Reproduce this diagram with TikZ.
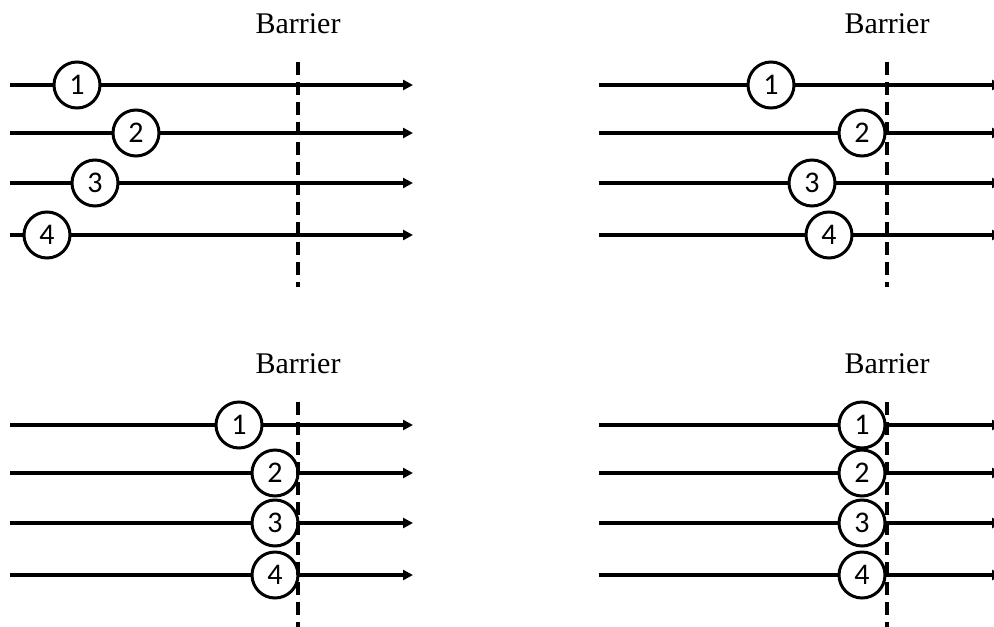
\documentclass[tikz,border=0pt]{standalone}
\usepackage{fontspec}
\setmainfont{Liberation Serif}
\newfontfamily\digitfont{Carlito}
\usetikzlibrary{arrows.meta,positioning}
\tikzset{
    thread/.style={
        circle,
        draw=black,
        line width=1.5pt,
        fill=white,
        inner sep=0pt,
        minimum size=23pt,
        font=\digitfont\fontsize{15}{17}\selectfont,
    },
    lane/.style={
        draw,
        line width=1.8pt,
        -{Triangle[length=5pt,width=5pt]},
    },
    barrier/.style={
        draw,
        line width=1.8pt,
        dash pattern=on 6.5pt off 3.5pt,
    },
    caption/.style={
        font=\fontsize{15}{17}\selectfont,
    },
}

\begin{document}
\begin{tikzpicture}[x=0.5pt,y=-0.5pt]
    \useasboundingbox (0,0) rectangle (994,626);

    % four panels: name / x offset / y offset
    \foreach \p/\x/\y in {a/0/0, b/589/0, c/0/340, d/589/340} {
        \foreach \i/\h in {1/85, 2/133, 3/183, 4/235} {
            \coordinate (s-\p\i) at (\x+10,\y+\h);
            \coordinate (e-\p\i) at (\x+413,\y+\h);
            \draw[lane] (s-\p\i) -- (e-\p\i);
        }
        \coordinate (top-\p) at (\x+298,\y+62);
        \coordinate (bot-\p) at (\x+298,\y+287);
        \node[caption] (lbl-\p) at (\x+298,\y+24) {Barrier};
    }

    % top left
    \node[thread] (a1) at (77,85) {1};
    \node[thread] (a2) at (136,133) {2};
    \node[thread] (a3) at (95,183) {3};
    \node[thread] (a4) at (47,235) {4};

    % top right
    \node[thread] (b1) at (771,85) {1};
    \node[thread] (b2) at (862,133) {2};
    \node[thread] (b3) at (812,183) {3};
    \node[thread] (b4) at (829,235) {4};

    % bottom left
    \node[thread] (c1) at (239,425) {1};
    \node[thread] (c2) at (275,473) {2};
    \node[thread] (c3) at (275,523) {3};
    \node[thread] (c4) at (275,575) {4};

    % bottom right
    \node[thread] (d1) at (862,425) {1};
    \node[thread] (d2) at (862,473) {2};
    \node[thread] (d3) at (862,523) {3};
    \node[thread] (d4) at (862,575) {4};

    \foreach \p in {a,b,c,d}
        \draw[barrier] (top-\p) -- (bot-\p);
\end{tikzpicture}
\end{document}
